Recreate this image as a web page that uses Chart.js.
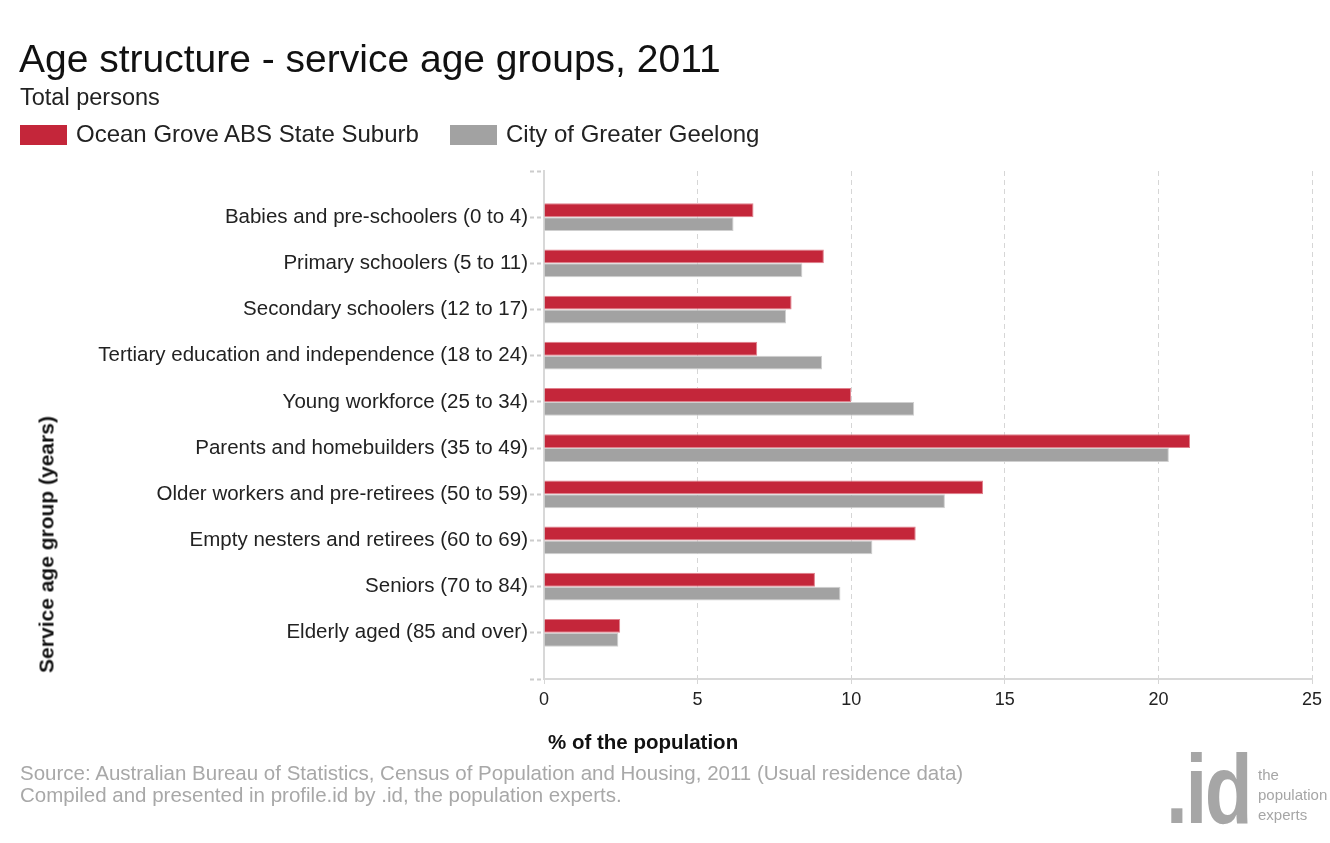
<!DOCTYPE html>
<html>
<head>
<meta charset="utf-8">
<script src="https://cdn.jsdelivr.net/npm/chart.js@4.4.1/dist/chart.umd.min.js"></script>
<style>
  body { margin: 0; background: #fff; font-family: "Liberation Sans", Arial, sans-serif; }
  #wrap { position: relative; width: 1330px; height: 843px; overflow: hidden; }
  #chart { position: absolute; left: 0; top: 0; }
  .abs { position: absolute; white-space: nowrap; line-height: 1; }
  #title { left: 19px; top: 39px; font-size: 39px; color: #111; }
  #subtitle { left: 20px; top: 86px; font-size: 23.5px; color: #222; }
  .legend { top: 122px; font-size: 24px; color: #222; }
  .legend i { display: inline-block; width: 47px; height: 20px; vertical-align: -3px; margin-right: 9px; }
  #ytitle { left: -104px; top: 534px; width: 300px; text-align: center; font-size: 21px; font-weight: bold; color: #111; transform: rotate(-90deg); }
  #xtitle { left: 548px; top: 732px; font-size: 20.5px; font-weight: bold; color: #111; }
  #source { left: 20px; top: 762px; font-size: 20.5px; line-height: 22px; color: #a8a8a8; }
  #logo { left: 1166px; top: 740px; font-size: 98px; font-weight: bold; color: #a6a6a6; letter-spacing: -3px; transform: scaleX(0.8); transform-origin: left top; }
  #logotag { left: 1258px; top: 765px; font-size: 15px; line-height: 20px; color: #a6a6a6; }
</style>
</head>
<body>
<div id="wrap">
  <canvas id="chart" width="1330" height="843"></canvas>
  <div class="abs" id="title">Age structure - service age groups, 2011</div>
  <div class="abs" id="subtitle">Total persons</div>
  <div class="abs legend" style="left:20px"><i style="background:#c4263a"></i>Ocean Grove ABS State Suburb</div>
  <div class="abs legend" style="left:450px"><i style="background:#a2a2a2"></i>City of Greater Geelong</div>
  <div class="abs" id="ytitle">Service age group (years)</div>
  <div class="abs" id="xtitle">% of the population</div>
  <div class="abs" id="source">Source: Australian Bureau of Statistics, Census of Population and Housing, 2011 (Usual residence data)<br>Compiled and presented in profile.id by .id, the population experts.</div>
  <div class="abs" id="logo">.id</div>
  <div class="abs" id="logotag">the<br>population<br>experts</div>
</div>
<script>
// age groups, top to bottom
const categories = [
    'Babies and pre-schoolers (0 to 4)',
    'Primary schoolers (5 to 11)',
    'Secondary schoolers (12 to 17)',
    'Tertiary education and independence (18 to 24)',
    'Young workforce (25 to 34)',
    'Parents and homebuilders (35 to 49)',
    'Older workers and pre-retirees (50 to 59)',
    'Empty nesters and retirees (60 to 69)',
    'Seniors (70 to 84)',
    'Elderly aged (85 and over)'
];
const oceanGrove = [6.82, 9.11, 8.06, 6.94, 10.0, 21.03, 14.29, 12.10, 8.82, 2.48];
const geelong = [6.17, 8.41, 7.88, 9.05, 12.05, 20.34, 13.05, 10.69, 9.65, 2.42];
const xTicks = [0, 5, 10, 15, 20, 25];

// bars sit on a numeric index axis so there is a gap above and below the groups
const toPoints = vals => vals.map((v, i) => ({ x: v, y: i }));

new Chart(document.getElementById('chart'), {
    type: 'bar',
    data: {
        datasets: [
            {
                label: 'Ocean Grove ABS State Suburb',
                data: toPoints(oceanGrove),
                backgroundColor: '#c4263a',
                borderColor: '#e0808c',
                borderWidth: 1,
                categoryPercentage: 0.6,
                barPercentage: 1
            },
            {
                label: 'City of Greater Geelong',
                data: toPoints(geelong),
                backgroundColor: '#a2a2a2',
                borderColor: '#cfcfcf',
                borderWidth: 1,
                categoryPercentage: 0.6,
                barPercentage: 1
            }
        ]
    },
    options: {
        indexAxis: 'y',
        responsive: false,
        animation: false,
        layout: { padding: { top: 171, right: 18, bottom: 0, left: 0 } },
        plugins: { legend: { display: false }, tooltip: { enabled: false } },
        scales: {
            x: {
                type: 'linear',
                min: xTicks[0],
                max: xTicks[xTicks.length - 1],
                afterBuildTicks: s => { s.ticks = xTicks.map(v => ({ value: v })); },
                afterFit: s => { s.height = 843 - 679; },
                grid: { color: '#d6d6d6', tickLength: 7, lineWidth: 1, tickBorderDash: [4, 3] },
                // in v4 border.dash dashes the grid lines; the axis line itself stays solid
                border: { display: true, color: '#d8d8d8', width: 2, dash: [5, 4] },
                ticks: { color: '#222', font: { family: 'Liberation Sans', size: 18 }, padding: 3 }
            },
            y: {
                type: 'linear',
                reverse: true,
                offset: false,
                min: -1,
                max: categories.length,
                afterBuildTicks: s => {
                    const t = [];
                    for (let i = -1; i <= categories.length; i++) t.push({ value: i });
                    s.ticks = t;
                },
                afterFit: s => { s.width = 544; },
                grid: { offset: false, drawOnChartArea: false, drawTicks: true, tickLength: 14, tickWidth: 2, tickColor: '#cccccc', tickBorderDash: [4, 3] },
                border: { display: true, color: '#d8d8d8', width: 2 },
                ticks: {
                    color: '#222',
                    font: { family: 'Liberation Sans', size: 20.5 },
                    padding: 2,
                    autoSkip: false,
                    callback: v => categories[v] || ''
                }
            }
        }
    }
});
</script>
</body>
</html>
